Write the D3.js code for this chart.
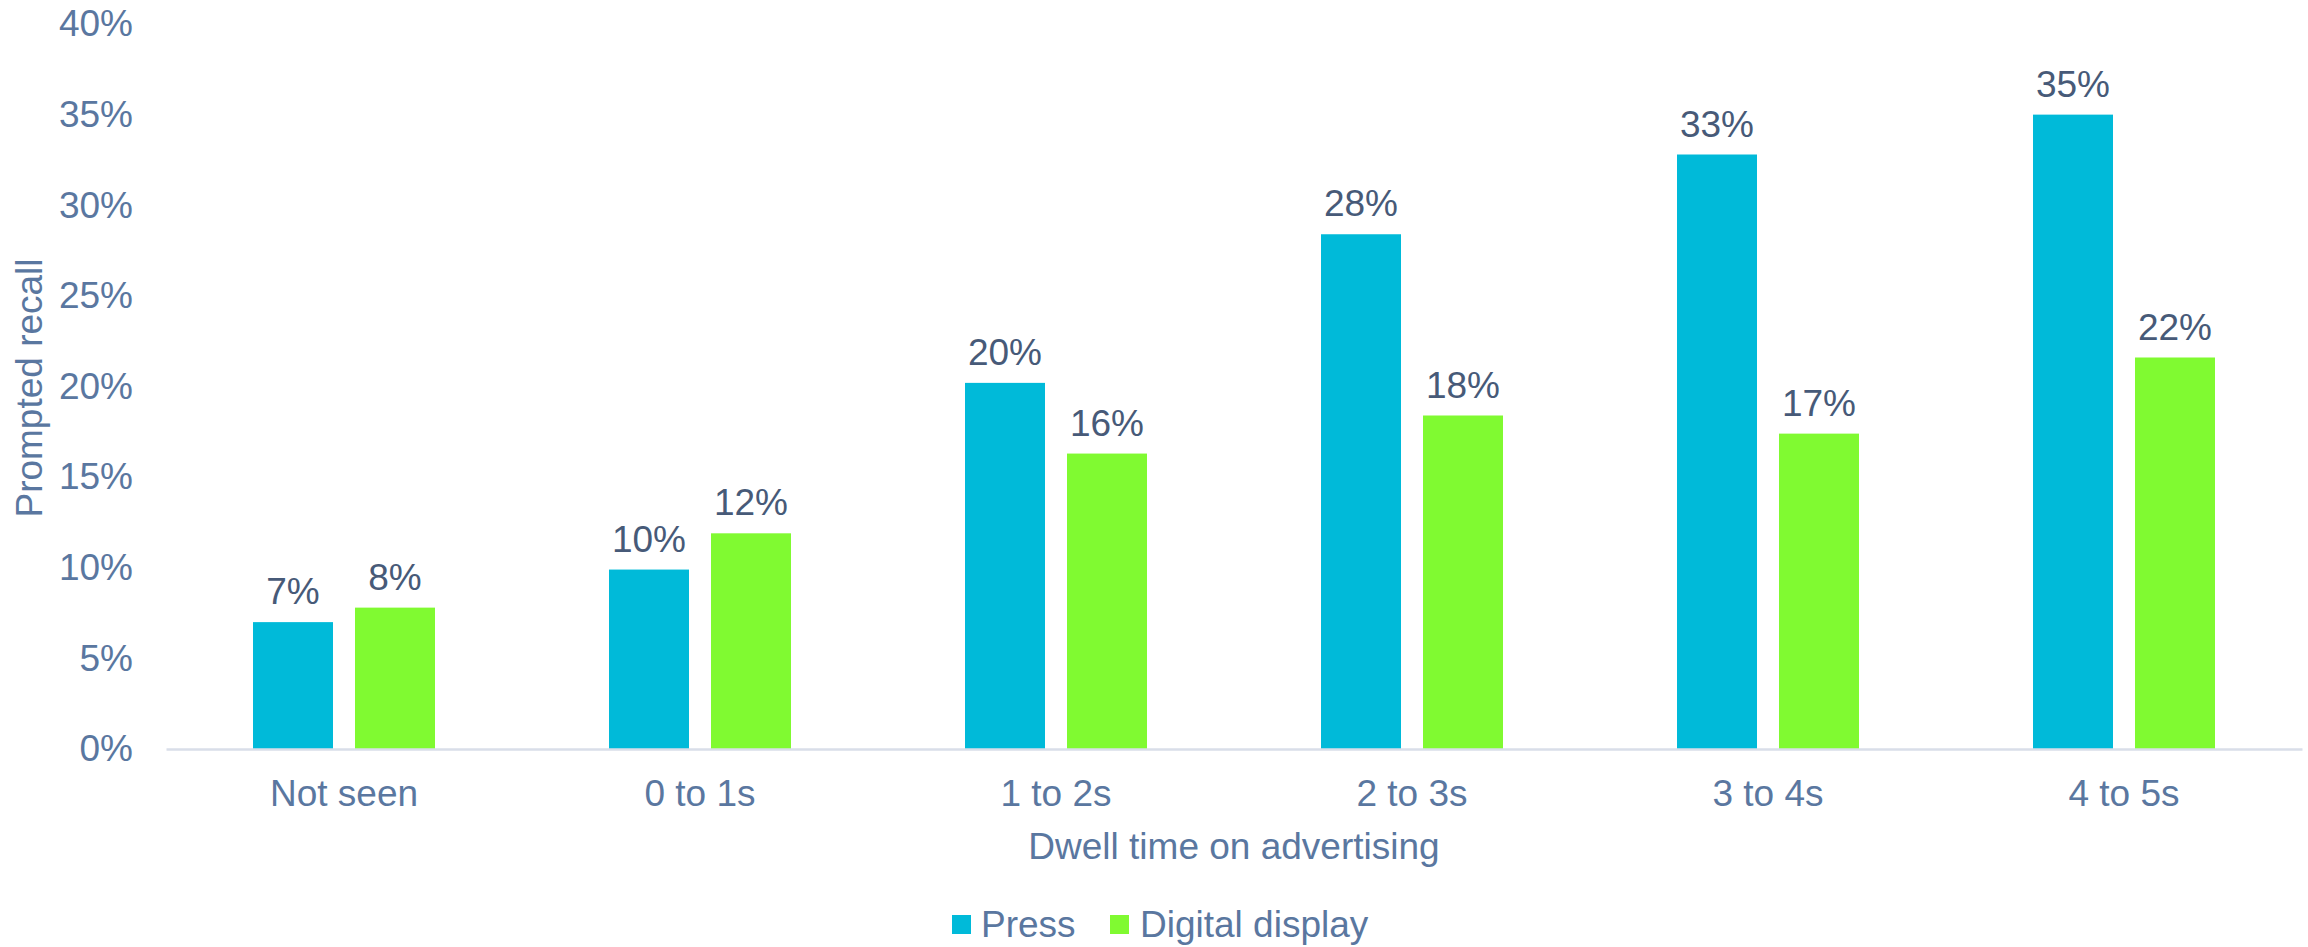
<!DOCTYPE html>
<html>
<head>
<meta charset="utf-8">
<script src="https://cdn.jsdelivr.net/npm/d3@7"></script>
<style>
  html, body { margin: 0; padding: 0; background: #ffffff; }
  svg { display: block; font-family: "Liberation Sans", Arial, sans-serif; }
</style>
</head>
<body>
<svg id="chart" width="2308" height="947"></svg>
<script>
// Prompted recall by dwell time on advertising
const categories = ["Not seen", "0 to 1s", "1 to 2s", "2 to 3s", "3 to 4s", "4 to 5s"];
const seriesNames = ["Press", "Digital display"];
const pressValues = [0.070, 0.099, 0.202, 0.284, 0.328, 0.350];
const digitalValues = [0.078, 0.119, 0.163, 0.184, 0.174, 0.216];
const yTicks = [0, 0.05, 0.10, 0.15, 0.20, 0.25, 0.30, 0.35, 0.40];
const xTitle = "Dwell time on advertising";
const yTitle = "Prompted recall";

const colors = ["#00bad9", "#80fa31"];
const tickColor = "#5a77a0";
const labelColor = "#475a78";
const fontSize = 37;

const svg = d3.select("#chart");
const plot = { left: 166, right: 2302, top: 24, bottom: 749 };

const x = d3.scaleBand()
  .domain(categories)
  .range([plot.left, plot.right])
  .paddingInner(0)
  .paddingOuter(0);

// Two bars per category, separated by a small gap
const barW = x.bandwidth() * 0.2247;
const innerGap = x.bandwidth() * 0.0618;
const xSub = d3.scaleOrdinal()
  .domain(seriesNames)
  .range([-innerGap / 2 - barW, innerGap / 2]);

const y = d3.scaleLinear().domain([0, 0.40]).range([plot.bottom, plot.top]);
const pct = d3.format(".0%");

const data = [];
categories.forEach((c, i) => {
  data.push({ cat: c, series: seriesNames[0], value: pressValues[i] });
  data.push({ cat: c, series: seriesNames[1], value: digitalValues[i] });
});
const colorOf = d3.scaleOrdinal().domain(seriesNames).range(colors);

// Y axis tick labels (no axis line, no gridlines)
const yAxis = d3.axisLeft(y).tickValues(yTicks).tickFormat(pct).tickSize(0).tickPadding(33);
const yg = svg.append("g").attr("transform", `translate(${plot.left},0)`).call(yAxis);
yg.select(".domain").remove();
yg.selectAll("text")
  .attr("fill", tickColor)
  .style("font-size", fontSize + "px")
  .style("font-family", "'Liberation Sans', Arial, sans-serif");

// Bars
svg.append("g").selectAll("rect")
  .data(data)
  .join("rect")
  .attr("x", d => x(d.cat) + x.bandwidth() / 2 + xSub(d.series))
  .attr("width", barW)
  .attr("y", d => y(d.value))
  .attr("height", d => y(0) - y(d.value))
  .attr("fill", d => colorOf(d.series));

// Category axis
const xAxis = d3.axisBottom(x).tickSize(0).tickPadding(0);
const xg = svg.append("g").attr("transform", `translate(0,${plot.bottom})`).call(xAxis);
xg.select(".domain").attr("stroke", "#d9dee9").attr("stroke-width", 2.5);
xg.selectAll("text")
  .attr("fill", tickColor)
  .attr("dy", null)
  .attr("y", 57)
  .style("font-size", fontSize + "px")
  .style("font-family", "'Liberation Sans', Arial, sans-serif");

// Value labels above bars
svg.append("g").selectAll("text")
  .data(data)
  .join("text")
  .attr("x", d => x(d.cat) + x.bandwidth() / 2 + xSub(d.series) + barW / 2)
  .attr("y", d => y(d.value) - 18)
  .attr("text-anchor", "middle")
  .attr("fill", labelColor)
  .style("font-size", fontSize + "px")
  .text(d => pct(d.value));

// Axis titles
svg.append("text")
  .attr("x", (plot.left + plot.right) / 2 - 0)
  .attr("y", 859)
  .attr("text-anchor", "middle")
  .attr("fill", tickColor)
  .style("font-size", fontSize + "px")
  .text(xTitle);

svg.append("text")
  .attr("transform", "translate(29,388) rotate(-90)")
  .attr("text-anchor", "middle")
  .attr("dominant-baseline", "central")
  .attr("fill", tickColor)
  .style("font-size", fontSize + "px")
  .text(yTitle);

// Legend
const legendItems = [
  { name: seriesNames[0], sx: 952, tx: 981 },
  { name: seriesNames[1], sx: 1110, tx: 1140 }
];
const lg = svg.append("g");
legendItems.forEach(it => {
  lg.append("rect")
    .attr("x", it.sx).attr("y", 915)
    .attr("width", 19).attr("height", 19)
    .attr("fill", colorOf(it.name));
  lg.append("text")
    .attr("x", it.tx).attr("y", 937)
    .attr("fill", tickColor)
    .style("font-size", fontSize + "px")
    .text(it.name);
});
</script>
</body>
</html>
